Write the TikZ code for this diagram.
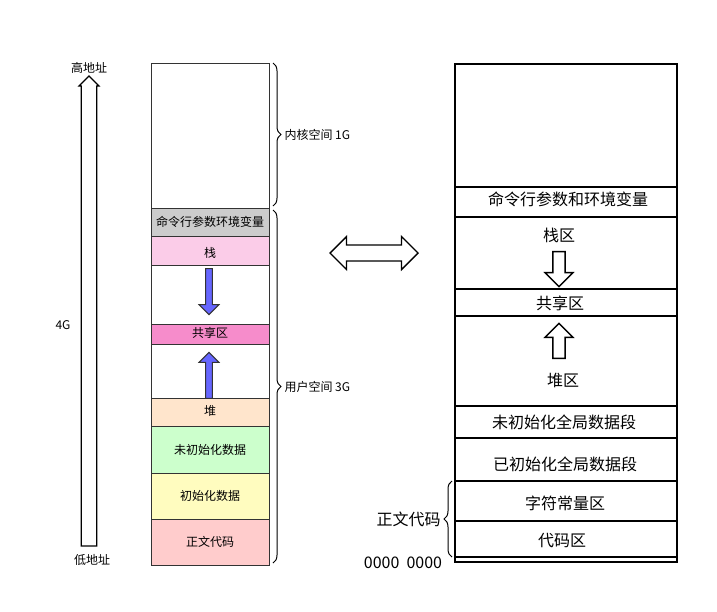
\documentclass[tikz,border=0pt]{standalone}
\usepackage{fontspec}
\setmainfont{Noto Sans CJK SC}
\usetikzlibrary{positioning,shapes.arrows,decorations.pathreplacing}
\begin{document}
\begin{tikzpicture}[x=1pt,y=-1pt]
\tikzstyle{every node}=[font=\fontsize{12}{12}\selectfont,inner sep=1pt]
\tikzstyle{seg}=[draw=black!80,thick]
\tikzstyle{bigseg}=[draw,line width=1.6pt]
\tikzstyle{blue arrow}=[single arrow,draw=black!80,fill=blue!60,line width=1pt,minimum height=46pt,
  minimum width=20pt,single arrow head extend=5pt,single arrow tip angle=90,inner sep=2pt]
\tikzstyle{hollow arrow}=[single arrow,draw,fill=white,line width=1.4pt,minimum height=35pt,
  minimum width=28pt,single arrow head extend=6pt,inner sep=4pt]
\tikzstyle{big label}=[font=\fontsize{16}{16}\selectfont]
\tikzstyle{curly}=[line width=1pt,decorate,decoration={brace,amplitude=8pt}]
\useasboundingbox (0,0) rectangle (717,611);

%% Left column
\fill[black!20]  (151,208) rectangle (269,236);
\fill[magenta!20] (151,236) rectangle (269,265);
\fill[magenta!45] (151,324) rectangle (269,344);
\fill[orange!20] (151,398) rectangle (269,426);
\fill[green!20]  (151,426) rectangle (269,473);
\fill[yellow!25] (151,473) rectangle (269,519);
\fill[red!20]    (151,519) rectangle (269,565);
\draw[seg] (151,63) rectangle (269,565);
\foreach \y in {208,236,265,324,344,398,426,473,519}
    \draw[seg] (151,\y) -- (269,\y);
\node (cmd)   at (210,222) {命令行参数环境变量};
\node (stack) at (210,253) {栈};
\node (share) at (210,333) {共享区};
\node (heap)  at (210,411) {堆};
\node (bss)   at (210,450) {未初始化数据};
\node (data)  at (210,496) {初始化数据};
\node (text)  at (210,542) {正文代码};
\node[blue arrow,rotate=-90] (down) at (209,290) {};
\node[blue arrow,rotate=90]  (up)   at (209,377) {};

% braces
\draw[curly] (273,63) -- (273,206)
    node[midway,right=10pt] (kernel) {内核空间 1G};
\draw[curly] (273,210) -- (273,563)
    node[midway,right=10pt] (user) {用户空间 3G};

% address axis
\node[single arrow,draw,line width=1.2pt,rotate=90,minimum height=470pt,minimum width=20pt,
      single arrow head extend=1pt,inner sep=3pt] (axis) at (89,315) {};
\node (high) at (89,68)  {高地址};
\node (low)  at (92,560) {低地址};
\node (size) at (63,325) {4G};

%% Middle
\node[double arrow,draw,line width=1.4pt,fill=white,minimum height=88pt,minimum width=33pt,
      double arrow head extend=5pt,inner sep=4pt] (map) at (374,253) {};

%% Right column
\draw[bigseg] (455,64) rectangle (677,562);
\foreach \y in {187,217,289,316,406,438,481,521,557}
    \draw[bigseg] (455,\y) -- (677,\y);
\node[big label] (rcmd)   at (568,199) {命令行参数和环境变量};
\node[big label] (rstack) at (559,235) {栈区};
\node[big label] (rshare) at (560,303) {共享区};
\node[big label] (rheap)  at (563,380) {堆区};
\node[big label] (rbss)   at (564,422) {未初始化全局数据段};
\node[big label] (rdata)  at (565,464) {已初始化全局数据段};
\node[big label] (rconst) at (565,503) {字符常量区};
\node[big label] (rcode)  at (562,541) {代码区};
\node[hollow arrow,rotate=-90] (rdown) at (559,266) {};
\node[hollow arrow,rotate=90]  (rup)   at (559,344) {};

\draw[curly] (452,557) -- (452,481)
    node[midway,left=10pt,big label] (rtext) {正文代码};
\node[big label] (zero) at (403,563) {0000\ \ 0000};
\end{tikzpicture}
\end{document}
